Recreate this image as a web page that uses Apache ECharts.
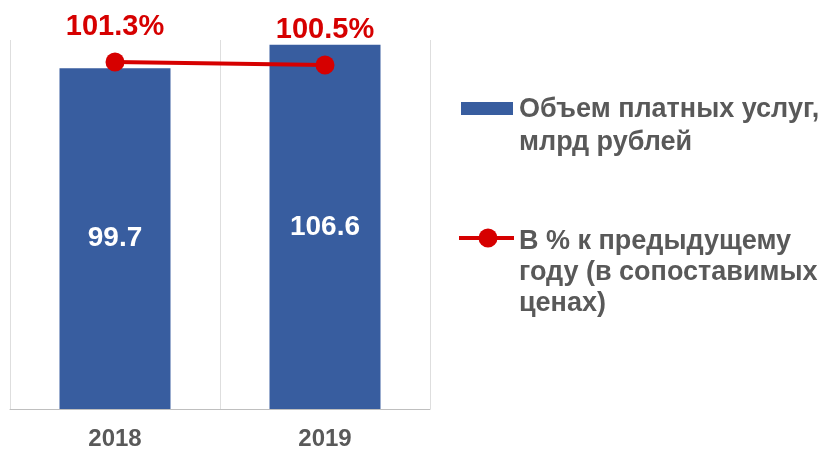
<!DOCTYPE html>
<html>
<head>
<meta charset="utf-8">
<script src="https://cdn.jsdelivr.net/npm/echarts@6/dist/echarts.min.js"></script>
<style>
  html, body { margin: 0; padding: 0; background: #fff; }
  #chart { width: 820px; height: 451px; }
</style>
</head>
<body>
<div id="chart"></div>
<script>
const years = ['2018', '2019'];
const volume = [99.7, 106.6];
const growth = [101.3, 100.5];
const volumeName = 'Объем платных услуг,\nмлрд рублей';
const growthName = 'В % к предыдущему\nгоду (в сопоставимых\nценах)';

const chartDom = document.getElementById('chart');
const myChart = echarts.init(chartDom);

const font = 'Liberation Sans, Arial, sans-serif';
const blue = '#385d9f';
const red = '#d60000';
const gray = '#595959';

const option = {
    animation: false,
    grid: { left: 10, right: 390, top: 40, bottom: 41 },
    xAxis: {
        type: 'category',
        data: years,
        axisLine: { lineStyle: { color: '#bfbfbf', width: 1 } },
        axisTick: { show: false },
        splitLine: { show: true, lineStyle: { color: '#dedede' } },
        axisLabel: {
            color: gray,
            fontFamily: font,
            fontWeight: 'bold',
            fontSize: 24,
            margin: 18
        }
    },
    yAxis: [
        { type: 'value', min: 0, max: 108, show: false },
        { type: 'value', min: 8.5, max: 107.17, show: false }
    ],
    series: [
        {
            name: volumeName,
            type: 'bar',
            data: volume,
            barWidth: 111,
            itemStyle: { color: blue },
            label: {
                show: true,
                position: 'inside',
                color: '#fff',
                fontFamily: font,
                fontWeight: 'bold',
                fontSize: 28
            }
        },
        {
            name: growthName,
            type: 'line',
            yAxisIndex: 1,
            data: growth,
            symbol: 'circle',
            symbolSize: 19,
            lineStyle: { color: red, width: 4 },
            itemStyle: { color: red },
            label: {
                show: true,
                position: 'top',
                distance: 11,
                color: red,
                fontFamily: font,
                fontWeight: 'bold',
                fontSize: 29,
                formatter: p => p.value.toFixed(1) + '%'
            }
        }
    ],
    graphic: [
        { type: 'rect', left: 461, top: 102, shape: { width: 52, height: 13 }, style: { fill: blue } },
        {
            type: 'text', left: 519, top: 93,
            style: { text: volumeName, fill: gray, font: 'bold 27px ' + font, lineHeight: 33 }
        },
        { type: 'line', shape: { x1: 459, y1: 238, x2: 514, y2: 238 }, style: { stroke: red, lineWidth: 4 } },
        { type: 'circle', shape: { cx: 488, cy: 238, r: 9.5 }, style: { fill: red } },
        {
            type: 'text', left: 519, top: 226,
            style: { text: growthName, fill: gray, font: 'bold 27px ' + font, lineHeight: 31 }
        }
    ]
};

myChart.setOption(option);
</script>
</body>
</html>
